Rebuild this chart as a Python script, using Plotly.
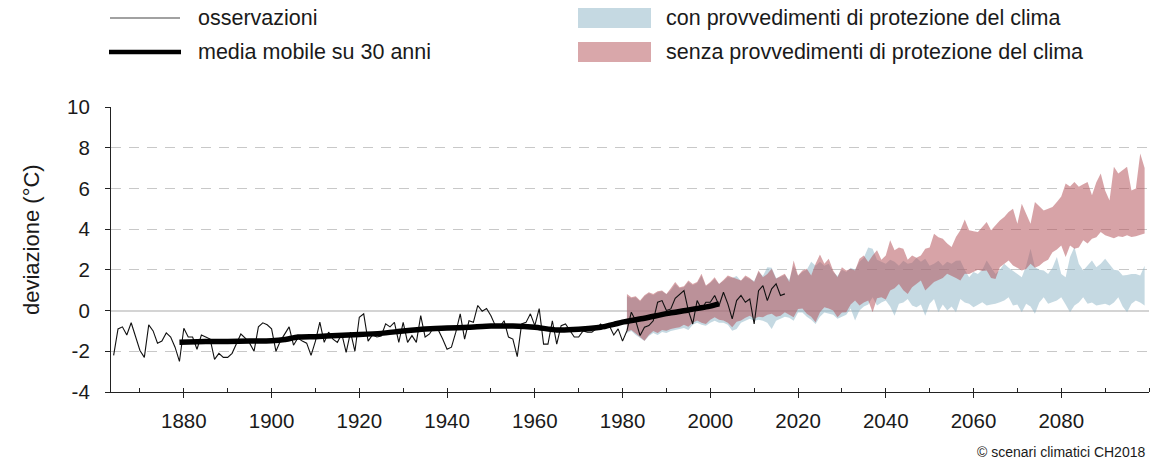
import plotly.graph_objects as go

# ---------------- data ----------------
obs_years = list(range(1864, 2018))
obs_values = [
    -2.2, -0.9, -0.8, -1.2, -0.6, -1.3, -1.96, -2.3, -0.7, -1.0,
    -1.6, -1.5, -1.1, -1.3, -1.8, -2.5, -0.87, -1.3, -1.3, -1.9,
    -1.2, -1.3, -1.4, -2.4, -2.1, -2.3, -2.3, -2.1, -1.6, -1.15,
    -1.35, -1.6, -2.0, -0.8, -0.6, -0.7, -0.9, -2.0, -1.5, -1.15,
    -0.8, -1.7, -1.35, -1.5, -1.6, -2.2, -1.5, -0.57, -1.56, -1.06,
    -1.4, -1.56, -1.15, -2.05, -1.06, -2.0, -0.33, -0.16, -1.5, -1.2,
    -1.3, -1.25, -0.65, -0.8, -0.58, -1.56, -0.58, -1.56, -1.23, -1.56,
    -0.25, -1.3, -1.15, -0.8, -0.95, -1.4, -1.9, -1.8, -1.06, -0.16,
    -1.4, -0.5, -0.58, 0.25, -0.03, 0.1, -0.25, -0.74, -0.8, -0.5,
    -1.3, -1.4, -2.26, -0.66, -0.58, -0.16, -0.74, 0.1, -1.65, -1.65,
    -0.5, -1.65, -0.74, -0.66, -1.0, -1.3, -1.3, -1.0, -1.06, -1.06,
    -0.9, -0.66, -0.9, -0.75, -1.2, -0.9, -1.5, -0.99, -0.08, -0.5,
    -1.23, -0.82, -0.74, -0.5, 0.41, 0.49, 0.0, 0.08, 0.6, 0.8,
    0.98, 0.0, -0.66, 0.49, 0.08, 0.41, 0.41, 0.74, 0.25, 0.9,
    0.33, -0.41, 0.49, 0.74, 0.41, 0.57, -0.66, 0.98, 1.23, 0.49,
    1.07, 1.31, 0.74, 0.82,
]

ma_years = [1879, 1885, 1890, 1895, 1900, 1903, 1906, 1910, 1915, 1920, 1925,
            1930, 1935, 1940, 1945, 1950, 1955, 1960, 1965, 1970, 1975, 1978,
            1980, 1985, 1990, 1995, 2000, 2002]
ma_values = [-1.55, -1.52, -1.52, -1.5, -1.48, -1.42, -1.3, -1.28, -1.22, -1.18, -1.12,
             -1.0, -0.9, -0.86, -0.82, -0.76, -0.76, -0.82, -0.95, -0.92, -0.82, -0.68,
             -0.57, -0.38, -0.15, 0.03, 0.22, 0.33]

scen_years = list(range(1981, 2100))

red_upper = [
    0.82, 0.66, 0.7, 0.5, 0.75, 0.9, 0.82, 0.95, 0.99, 0.82,
    1.1, 1.4, 1.15, 1.2, 1.48, 1.3, 1.4, 1.81, 1.23, 1.4,
    1.64, 1.31, 1.5, 1.72, 1.64, 1.55, 1.48, 1.72, 1.6, 1.4,
    1.97, 1.64, 1.8, 2.05, 1.56, 1.7, 1.81, 1.4, 2.46, 1.72,
    1.97, 2.05, 1.72, 2.3, 2.75, 2.3, 2.55, 1.97, 1.64, 2.13,
    1.97, 2.05, 1.97, 2.55, 2.71, 2.38, 2.71, 2.96, 2.5, 2.71,
    3.45, 2.96, 3.1, 3.04, 2.5, 2.7, 2.6, 2.71, 3.04, 3.1,
    3.77, 3.6, 3.53, 3.3, 3.12, 3.61, 3.94, 4.47, 3.94, 3.9,
    3.86, 4.1, 4.35, 3.94, 4.2, 4.43, 4.6, 4.84, 5.0, 4.27,
    5.25, 4.8, 4.27, 5.33, 5.1, 4.92, 5.0, 5.09, 5.33, 5.6,
    6.24, 6.1, 6.32, 6.08, 6.2, 6.32, 5.66, 6.3, 6.73, 5.9,
    5.41, 7.06, 6.73, 6.9, 7.06, 5.9, 6.0, 7.72, 7.0,
]
red_lower = [
    -1.03, -0.95, -1.1, -1.3, -1.48, -1.2, -1.0, -1.1, -0.95, -0.99,
    -0.9, -0.85, -0.82, -0.7, -0.8, -0.6, -0.49, -0.6, -0.66, -0.45,
    -0.33, -0.45, -0.49, -0.6, -0.82, -0.55, -0.49, -0.35, -0.25, -0.4,
    -0.3, -0.33, -0.2, -0.16, -0.3, -0.25, -0.08, -0.2, -0.33, 0.08,
    0.1, -0.16, -0.3, -0.57, -0.08, 0.16, 0.1, 0.0, -0.33, -0.1,
    -0.08, 0.3, 0.49, 0.25, 0.4, 0.49, -0.08, 0.6, 0.66, 0.55,
    0.99, 1.1, 1.31, 1.0, 0.82, 1.15, 1.3, 1.48, 0.99, 1.2,
    1.4, 1.48, 1.6, 1.81, 1.72, 1.6, 1.48, 1.81, 1.8, 1.9,
    2.0, 1.95, 1.97, 1.6, 1.55, 2.13, 2.3, 2.46, 2.22, 2.1,
    1.97, 2.04, 2.3, 2.1, 2.2, 2.38, 2.5, 2.87, 3.0, 3.2,
    2.63, 3.2, 3.04, 3.1, 3.45, 3.3, 3.53, 3.6, 3.86, 3.7,
    3.61, 3.55, 3.65, 3.61, 3.7, 3.62, 3.65, 3.7, 3.78,
]
blue_upper = [
    0.7, 0.6, 0.65, 0.45, 0.7, 0.85, 0.75, 0.9, 0.95, 0.8,
    1.0, 1.3, 1.1, 1.15, 1.4, 1.25, 1.35, 1.7, 1.2, 1.35,
    1.55, 1.3, 1.45, 1.65, 1.6, 1.7, 1.45, 1.65, 1.55, 1.45,
    1.9, 1.7, 2.13, 2.1, 1.6, 1.65, 1.75, 1.5, 2.2, 1.7,
    1.9, 2.0, 2.4, 2.2, 2.4, 2.2, 2.3, 1.9, 1.7, 2.0,
    1.9, 2.1, 2.0, 2.4, 2.6, 3.1, 3.04, 2.5, 2.4, 2.3,
    2.5, 2.4, 2.2, 2.45, 2.3, 2.35, 2.6, 2.4, 2.55, 2.2,
    2.3, 2.45, 2.2, 2.4, 2.3, 2.45, 2.46, 2.0, 1.64, 1.9,
    1.8, 2.0, 2.46, 2.1, 1.8, 2.0, 2.3, 2.1, 1.97, 1.8,
    1.64, 2.2, 3.04, 2.13, 2.0, 1.97, 1.8, 2.1, 2.63, 1.8,
    1.64, 2.63, 3.12, 2.3, 1.97, 2.2, 2.46, 2.13, 2.3, 2.55,
    2.3, 2.0, 1.97, 1.72, 1.75, 1.8, 1.8, 1.72, 2.2,
]
blue_lower = [
    -1.1, -1.0, -1.2, -1.35, -1.5, -1.25, -1.1, -1.2, -1.05, -1.1,
    -1.0, -0.95, -0.9, -0.85, -0.95, -0.7, -0.6, -0.7, -0.75, -0.6,
    -0.5, -0.6, -0.6, -0.7, -0.99, -0.9, -0.6, -0.5, -0.4, -0.5,
    -0.45, -0.5, -0.6, -0.9, -0.5, -0.4, -0.3, -0.35, -0.5, -0.1,
    -0.1, -0.3, -0.45, -0.66, -0.3, -0.1, -0.15, -0.2, -0.4, -0.3,
    -0.2, 0.1, -0.49, 0.0, 0.2, 0.3, 0.66, 0.25, 0.4, 0.49,
    0.2, -0.25, 0.33, 0.4, 0.57, 0.25, 0.16, 0.3, -0.25, 0.33,
    0.57, -0.08, 0.3, 0.0, 0.2, -0.08, 0.57, 0.4, 0.33, 0.16,
    0.3, 0.41, 0.25, 0.3, 0.33, 0.41, 0.5, 0.66, 0.25, 0.3,
    -0.08, 0.33, 0.2, -0.16, 0.4, 0.66, 0.33, 0.4, 0.49, 0.66,
    0.3, -0.08, 0.25, 0.4, 0.66, 0.33, 0.4, 0.25, 0.3, 0.33,
    0.25, 0.4, 0.66, 0.2, -0.08, 0.33, 0.49, 0.4, 0.25,
]

x_tickvals = [1880, 1900, 1920, 1940, 1960, 1980, 2000, 2020, 2040, 2060, 2080]
y_tickvals = [-4, -2, 0, 2, 4, 6, 8, 10]
y_ticktext = ["-4", "-2", "0", "2", "4", "6", "8", "10"]

legend_labels = ["osservazioni", "media mobile su 30 anni",
                 "con provvedimenti di protezione del clima",
                 "senza provvedimenti di protezione del clima"]
y_title = "deviazione (°C)"
credit = "© scenari climatici CH2018"

# ---------------- styling ----------------
W, H = 1171, 461
ML, MR, MT, MB = 111, 22, 107, 69
FONT = "Liberation Sans, Arial, sans-serif"
TXT = "#1a1a1a"
BLUE = "rgba(140,180,198,0.5)"
RED = "rgba(178,78,86,0.52)"
BLUE_SW = "rgb(197,217,226)"
RED_SW = "rgb(217,167,170)"

pw = W - ML - MR
ph = H - MT - MB


def px_x(px):
    return (px - ML) / pw


def px_y(py):
    return (H - MB - py) / ph


fig = go.Figure()

fig.add_trace(go.Scatter(
    x=scen_years + scen_years[::-1], y=blue_upper + blue_lower[::-1],
    fill="toself", fillcolor=BLUE, line=dict(width=0), mode="lines",
    hoverinfo="skip", showlegend=False))
fig.add_trace(go.Scatter(
    x=scen_years + scen_years[::-1], y=red_upper + red_lower[::-1],
    fill="toself", fillcolor=RED, line=dict(width=0), mode="lines",
    hoverinfo="skip", showlegend=False))
fig.add_trace(go.Scatter(
    x=obs_years, y=obs_values, mode="lines",
    line=dict(color="#111111", width=1.1), showlegend=False))
fig.add_trace(go.Scatter(
    x=ma_years, y=ma_values, mode="lines",
    line=dict(color="#000000", width=5.5, shape="spline", smoothing=0.5),
    showlegend=False))

shapes = [
    dict(type="line", xref="paper", yref="paper", x0=px_x(110), x1=px_x(180),
         y0=px_y(18), y1=px_y(18), line=dict(color="#444444", width=1.2)),
    dict(type="line", xref="paper", yref="paper", x0=px_x(109), x1=px_x(181),
         y0=px_y(52), y1=px_y(52), line=dict(color="#000000", width=4.5)),
    dict(type="rect", xref="paper", yref="paper", x0=px_x(578), x1=px_x(651),
         y0=px_y(28), y1=px_y(8), fillcolor=BLUE_SW, line=dict(width=0)),
    dict(type="rect", xref="paper", yref="paper", x0=px_x(578), x1=px_x(651),
         y0=px_y(62), y1=px_y(42), fillcolor=RED_SW, line=dict(width=0)),
]

annotations = []
for label, x, y in [(legend_labels[0], 196, 18), (legend_labels[1], 196, 52),
                    (legend_labels[2], 664, 18), (legend_labels[3], 664, 52)]:
    annotations.append(dict(text=label, xref="paper", yref="paper",
                            x=px_x(x), y=px_y(y), xanchor="left", yanchor="middle",
                            showarrow=False, font=dict(family=FONT, size=21.5, color=TXT)))
annotations.append(dict(text=y_title, xref="paper", yref="paper", x=px_x(31), y=px_y(240),
                        xanchor="center", yanchor="middle", textangle=-90, showarrow=False,
                        font=dict(family=FONT, size=22, color=TXT)))
annotations.append(dict(text=credit, xref="paper", yref="paper", x=px_x(1147), y=px_y(452),
                        xanchor="right", yanchor="middle", showarrow=False,
                        font=dict(family=FONT, size=14, color=TXT)))

fig.update_layout(
    width=W, height=H, autosize=False,
    margin=dict(l=ML, r=MR, t=MT, b=MB),
    paper_bgcolor="white", plot_bgcolor="white",
    font=dict(family=FONT, color=TXT),
    shapes=shapes, annotations=annotations, showlegend=False,
    xaxis=dict(range=[1863.4, 2100], tickvals=x_tickvals, showgrid=False, zeroline=False,
               showline=True, linecolor="#222222", linewidth=1.2,
               ticks="outside", ticklen=5, tickcolor="#222222",
               minor=dict(dtick=10, tick0=1870, ticks="inside", ticklen=4, tickcolor="#222222"),
               tickfont=dict(family=FONT, size=20.5, color=TXT), ticklabelstandoff=5),
    yaxis=dict(range=[-4, 10], tickvals=y_tickvals, ticktext=y_ticktext,
               showgrid=True, gridcolor="#c8c8c8",
               gridwidth=1.3, griddash="10px,8px", zeroline=True, zerolinecolor="#d4d4d4",
               zerolinewidth=1.5, showline=True, linecolor="#222222", linewidth=1.2,
               ticks="outside", ticklen=5, tickcolor="#222222",
               tickfont=dict(family=FONT, size=20.5, color=TXT), ticklabelstandoff=11),
)

fig.write_html("out.html", config={"displayModeBar": False},
               post_script="document.body.style.margin='0px';document.body.style.padding='0px';")
